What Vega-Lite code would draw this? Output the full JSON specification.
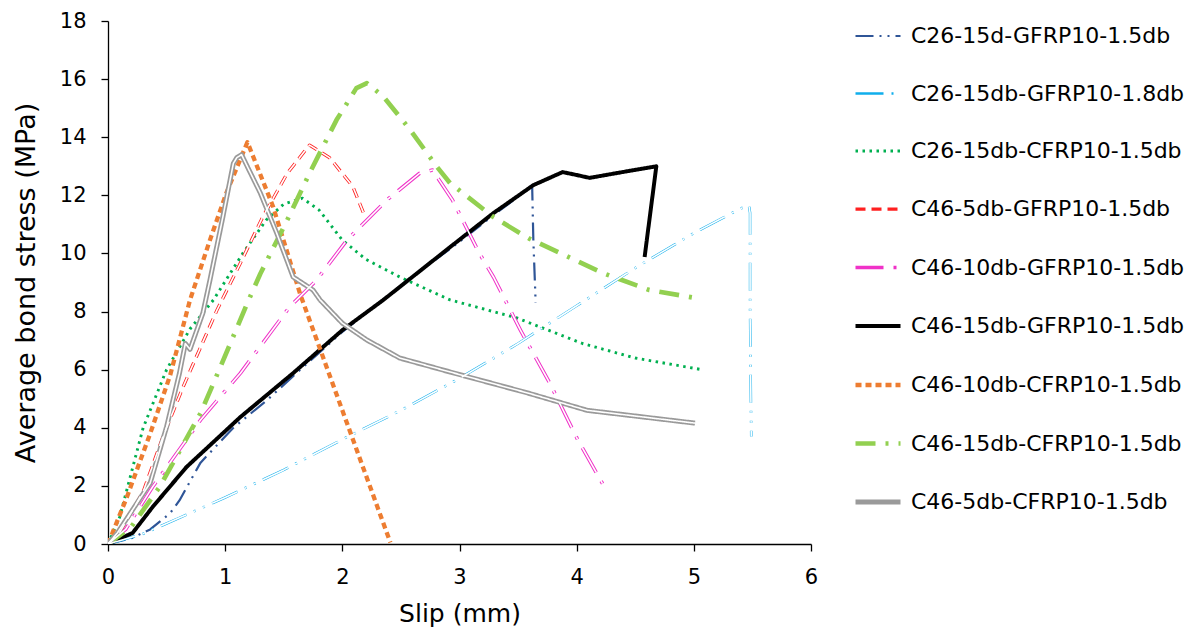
{
  "$schema": "https://vega.github.io/schema/vega-lite/v6.json",
  "autosize": {"type": "none"},
  "width": 703,
  "height": 523,
  "padding": {"left": 108, "top": 21, "right": 382, "bottom": 90},
  "background": "white",
  "config": {
    "font": "DejaVu Sans",
    "view": {"stroke": null},
    "axis": {"grid": false, "labelFlush": false, "domainColor": "#000000", "tickColor": "#000000", "labelColor": "#000000", "titleColor": "#000000", "labelFont": "DejaVu Sans", "titleFont": "DejaVu Sans", "titleFontWeight": "normal", "domainWidth": 1.3, "tickWidth": 1.3, "tickSize": 7}
  },
  "datasets": {
    "curves": [
      {"s": "C26-15d-GFRP10-1.5db", "i": 0, "x": 0, "y": 0},
      {"s": "C26-15d-GFRP10-1.5db", "i": 1, "x": 0.2, "y": 0.2},
      {"s": "C26-15d-GFRP10-1.5db", "i": 2, "x": 0.36, "y": 0.5},
      {"s": "C26-15d-GFRP10-1.5db", "i": 3, "x": 0.53, "y": 1.06},
      {"s": "C26-15d-GFRP10-1.5db", "i": 4, "x": 0.61, "y": 1.5},
      {"s": "C26-15d-GFRP10-1.5db", "i": 5, "x": 0.79, "y": 2.8},
      {"s": "C26-15d-GFRP10-1.5db", "i": 6, "x": 1.07, "y": 4.0},
      {"s": "C26-15d-GFRP10-1.5db", "i": 7, "x": 1.36, "y": 4.96},
      {"s": "C26-15d-GFRP10-1.5db", "i": 8, "x": 1.6, "y": 5.85},
      {"s": "C26-15d-GFRP10-1.5db", "i": 9, "x": 2.0, "y": 7.3},
      {"s": "C26-15d-GFRP10-1.5db", "i": 10, "x": 2.5, "y": 8.9},
      {"s": "C26-15d-GFRP10-1.5db", "i": 11, "x": 3.0, "y": 10.4},
      {"s": "C26-15d-GFRP10-1.5db", "i": 12, "x": 3.3, "y": 11.35},
      {"s": "C26-15d-GFRP10-1.5db", "i": 13, "x": 3.55, "y": 12.1},
      {"s": "C26-15d-GFRP10-1.5db", "i": 14, "x": 3.62, "y": 12.35},
      {"s": "C26-15d-GFRP10-1.5db", "i": 15, "x": 3.63, "y": 10.5},
      {"s": "C26-15d-GFRP10-1.5db", "i": 16, "x": 3.65, "y": 8.3},

      {"s": "C26-15db-GFRP10-1.8db", "i": 0, "x": 0, "y": 0},
      {"s": "C26-15db-GFRP10-1.8db", "i": 1, "x": 0.3, "y": 0.35},
      {"s": "C26-15db-GFRP10-1.8db", "i": 2, "x": 0.61, "y": 0.9},
      {"s": "C26-15db-GFRP10-1.8db", "i": 3, "x": 1.0, "y": 1.6},
      {"s": "C26-15db-GFRP10-1.8db", "i": 4, "x": 1.5, "y": 2.55},
      {"s": "C26-15db-GFRP10-1.8db", "i": 5, "x": 2.0, "y": 3.6},
      {"s": "C26-15db-GFRP10-1.8db", "i": 6, "x": 2.5, "y": 4.6},
      {"s": "C26-15db-GFRP10-1.8db", "i": 7, "x": 3.0, "y": 5.7},
      {"s": "C26-15db-GFRP10-1.8db", "i": 8, "x": 3.5, "y": 6.9},
      {"s": "C26-15db-GFRP10-1.8db", "i": 9, "x": 4.0, "y": 8.2},
      {"s": "C26-15db-GFRP10-1.8db", "i": 10, "x": 4.5, "y": 9.5},
      {"s": "C26-15db-GFRP10-1.8db", "i": 11, "x": 5.0, "y": 10.7},
      {"s": "C26-15db-GFRP10-1.8db", "i": 12, "x": 5.4, "y": 11.55},
      {"s": "C26-15db-GFRP10-1.8db", "i": 13, "x": 5.47, "y": 11.65},
      {"s": "C26-15db-GFRP10-1.8db", "i": 14, "x": 5.48, "y": 11.4},
      {"s": "C26-15db-GFRP10-1.8db", "i": 15, "x": 5.48, "y": 8.0},
      {"s": "C26-15db-GFRP10-1.8db", "i": 16, "x": 5.49, "y": 3.7},

      {"s": "C26-15db-CFRP10-1.5db", "i": 0, "x": 0, "y": 0},
      {"s": "C26-15db-CFRP10-1.5db", "i": 1, "x": 0.1, "y": 0.93},
      {"s": "C26-15db-CFRP10-1.5db", "i": 2, "x": 0.3, "y": 4.0},
      {"s": "C26-15db-CFRP10-1.5db", "i": 3, "x": 0.5, "y": 6.0},
      {"s": "C26-15db-CFRP10-1.5db", "i": 4, "x": 0.7, "y": 7.4},
      {"s": "C26-15db-CFRP10-1.5db", "i": 5, "x": 0.9, "y": 8.4},
      {"s": "C26-15db-CFRP10-1.5db", "i": 6, "x": 1.15, "y": 10.0},
      {"s": "C26-15db-CFRP10-1.5db", "i": 7, "x": 1.35, "y": 11.15},
      {"s": "C26-15db-CFRP10-1.5db", "i": 8, "x": 1.5, "y": 11.7},
      {"s": "C26-15db-CFRP10-1.5db", "i": 9, "x": 1.66, "y": 11.9},
      {"s": "C26-15db-CFRP10-1.5db", "i": 10, "x": 1.8, "y": 11.5},
      {"s": "C26-15db-CFRP10-1.5db", "i": 11, "x": 2.0, "y": 10.46},
      {"s": "C26-15db-CFRP10-1.5db", "i": 12, "x": 2.2, "y": 9.8},
      {"s": "C26-15db-CFRP10-1.5db", "i": 13, "x": 2.49, "y": 9.19},
      {"s": "C26-15db-CFRP10-1.5db", "i": 14, "x": 2.92, "y": 8.4},
      {"s": "C26-15db-CFRP10-1.5db", "i": 15, "x": 3.49, "y": 7.78},
      {"s": "C26-15db-CFRP10-1.5db", "i": 16, "x": 4.05, "y": 6.9},
      {"s": "C26-15db-CFRP10-1.5db", "i": 17, "x": 4.5, "y": 6.4},
      {"s": "C26-15db-CFRP10-1.5db", "i": 18, "x": 5.07, "y": 6.0},

      {"s": "C46-5db-GFRP10-1.5db", "i": 0, "x": 0, "y": 0},
      {"s": "C46-5db-GFRP10-1.5db", "i": 1, "x": 0.1, "y": 0.4},
      {"s": "C46-5db-GFRP10-1.5db", "i": 2, "x": 0.3, "y": 1.8},
      {"s": "C46-5db-GFRP10-1.5db", "i": 3, "x": 0.47, "y": 3.7},
      {"s": "C46-5db-GFRP10-1.5db", "i": 4, "x": 0.64, "y": 5.4},
      {"s": "C46-5db-GFRP10-1.5db", "i": 5, "x": 0.93, "y": 8.05},
      {"s": "C46-5db-GFRP10-1.5db", "i": 6, "x": 1.13, "y": 9.67},
      {"s": "C46-5db-GFRP10-1.5db", "i": 7, "x": 1.32, "y": 11.25},
      {"s": "C46-5db-GFRP10-1.5db", "i": 8, "x": 1.53, "y": 12.76},
      {"s": "C46-5db-GFRP10-1.5db", "i": 9, "x": 1.72, "y": 13.73},
      {"s": "C46-5db-GFRP10-1.5db", "i": 10, "x": 1.89, "y": 13.3},
      {"s": "C46-5db-GFRP10-1.5db", "i": 11, "x": 2.09, "y": 12.3},
      {"s": "C46-5db-GFRP10-1.5db", "i": 12, "x": 2.18, "y": 11.4},

      {"s": "C46-10db-GFRP10-1.5db", "i": 0, "x": 0, "y": 0},
      {"s": "C46-10db-GFRP10-1.5db", "i": 1, "x": 0.15, "y": 0.5},
      {"s": "C46-10db-GFRP10-1.5db", "i": 2, "x": 0.38, "y": 1.96},
      {"s": "C46-10db-GFRP10-1.5db", "i": 3, "x": 0.79, "y": 4.27},
      {"s": "C46-10db-GFRP10-1.5db", "i": 4, "x": 1.13, "y": 5.88},
      {"s": "C46-10db-GFRP10-1.5db", "i": 5, "x": 1.55, "y": 8.16},
      {"s": "C46-10db-GFRP10-1.5db", "i": 6, "x": 1.78, "y": 9.08},
      {"s": "C46-10db-GFRP10-1.5db", "i": 7, "x": 2.04, "y": 10.46},
      {"s": "C46-10db-GFRP10-1.5db", "i": 8, "x": 2.38, "y": 11.84},
      {"s": "C46-10db-GFRP10-1.5db", "i": 9, "x": 2.66, "y": 12.76},
      {"s": "C46-10db-GFRP10-1.5db", "i": 10, "x": 2.77, "y": 12.87},
      {"s": "C46-10db-GFRP10-1.5db", "i": 11, "x": 2.94, "y": 11.84},
      {"s": "C46-10db-GFRP10-1.5db", "i": 12, "x": 3.17, "y": 10.0},
      {"s": "C46-10db-GFRP10-1.5db", "i": 13, "x": 3.29, "y": 9.19},
      {"s": "C46-10db-GFRP10-1.5db", "i": 14, "x": 3.52, "y": 7.36},
      {"s": "C46-10db-GFRP10-1.5db", "i": 15, "x": 3.77, "y": 5.54},
      {"s": "C46-10db-GFRP10-1.5db", "i": 16, "x": 4.01, "y": 3.58},
      {"s": "C46-10db-GFRP10-1.5db", "i": 17, "x": 4.26, "y": 1.8},

      {"s": "C46-15db-GFRP10-1.5db", "i": 0, "x": 0, "y": 0},
      {"s": "C46-15db-GFRP10-1.5db", "i": 1, "x": 0.21, "y": 0.38},
      {"s": "C46-15db-GFRP10-1.5db", "i": 2, "x": 0.38, "y": 1.27},
      {"s": "C46-15db-GFRP10-1.5db", "i": 3, "x": 0.67, "y": 2.65},
      {"s": "C46-15db-GFRP10-1.5db", "i": 4, "x": 1.13, "y": 4.37},
      {"s": "C46-15db-GFRP10-1.5db", "i": 5, "x": 1.58, "y": 5.88},
      {"s": "C46-15db-GFRP10-1.5db", "i": 6, "x": 2.0, "y": 7.36},
      {"s": "C46-15db-GFRP10-1.5db", "i": 7, "x": 2.35, "y": 8.4},
      {"s": "C46-15db-GFRP10-1.5db", "i": 8, "x": 2.92, "y": 10.22},
      {"s": "C46-15db-GFRP10-1.5db", "i": 9, "x": 3.29, "y": 11.39},
      {"s": "C46-15db-GFRP10-1.5db", "i": 10, "x": 3.63, "y": 12.35},
      {"s": "C46-15db-GFRP10-1.5db", "i": 11, "x": 3.88, "y": 12.8},
      {"s": "C46-15db-GFRP10-1.5db", "i": 12, "x": 4.0, "y": 12.7},
      {"s": "C46-15db-GFRP10-1.5db", "i": 13, "x": 4.11, "y": 12.6},
      {"s": "C46-15db-GFRP10-1.5db", "i": 14, "x": 4.39, "y": 12.8},
      {"s": "C46-15db-GFRP10-1.5db", "i": 15, "x": 4.68, "y": 13.0},
      {"s": "C46-15db-GFRP10-1.5db", "i": 16, "x": 4.58, "y": 9.88},

      {"s": "C46-10db-CFRP10-1.5db", "i": 0, "x": 0, "y": 0},
      {"s": "C46-10db-CFRP10-1.5db", "i": 1, "x": 0.16, "y": 1.6},
      {"s": "C46-10db-CFRP10-1.5db", "i": 2, "x": 0.36, "y": 3.8},
      {"s": "C46-10db-CFRP10-1.5db", "i": 3, "x": 0.53, "y": 5.8},
      {"s": "C46-10db-CFRP10-1.5db", "i": 4, "x": 0.7, "y": 8.4},
      {"s": "C46-10db-CFRP10-1.5db", "i": 5, "x": 0.87, "y": 10.46},
      {"s": "C46-10db-CFRP10-1.5db", "i": 6, "x": 1.01, "y": 12.08},
      {"s": "C46-10db-CFRP10-1.5db", "i": 7, "x": 1.19, "y": 13.83},
      {"s": "C46-10db-CFRP10-1.5db", "i": 8, "x": 1.41, "y": 11.6},
      {"s": "C46-10db-CFRP10-1.5db", "i": 9, "x": 1.64, "y": 8.6},
      {"s": "C46-10db-CFRP10-1.5db", "i": 10, "x": 2.0, "y": 4.6},
      {"s": "C46-10db-CFRP10-1.5db", "i": 11, "x": 2.41, "y": 0.05},

      {"s": "C46-15db-CFRP10-1.5db", "i": 0, "x": 0, "y": 0},
      {"s": "C46-15db-CFRP10-1.5db", "i": 1, "x": 0.2, "y": 0.6},
      {"s": "C46-15db-CFRP10-1.5db", "i": 2, "x": 0.44, "y": 1.96},
      {"s": "C46-15db-CFRP10-1.5db", "i": 3, "x": 0.79, "y": 4.5},
      {"s": "C46-15db-CFRP10-1.5db", "i": 4, "x": 0.96, "y": 6.1},
      {"s": "C46-15db-CFRP10-1.5db", "i": 5, "x": 1.19, "y": 8.3},
      {"s": "C46-15db-CFRP10-1.5db", "i": 6, "x": 1.3, "y": 9.3},
      {"s": "C46-15db-CFRP10-1.5db", "i": 7, "x": 1.53, "y": 11.15},
      {"s": "C46-15db-CFRP10-1.5db", "i": 8, "x": 1.72, "y": 12.76},
      {"s": "C46-15db-CFRP10-1.5db", "i": 9, "x": 1.95, "y": 14.59},
      {"s": "C46-15db-CFRP10-1.5db", "i": 10, "x": 2.12, "y": 15.69},
      {"s": "C46-15db-CFRP10-1.5db", "i": 11, "x": 2.21, "y": 15.86},
      {"s": "C46-15db-CFRP10-1.5db", "i": 12, "x": 2.35, "y": 15.4},
      {"s": "C46-15db-CFRP10-1.5db", "i": 13, "x": 2.58, "y": 14.25},
      {"s": "C46-15db-CFRP10-1.5db", "i": 14, "x": 2.81, "y": 12.97},
      {"s": "C46-15db-CFRP10-1.5db", "i": 15, "x": 2.92, "y": 12.42},
      {"s": "C46-15db-CFRP10-1.5db", "i": 16, "x": 3.29, "y": 11.25},
      {"s": "C46-15db-CFRP10-1.5db", "i": 17, "x": 3.6, "y": 10.5},
      {"s": "C46-15db-CFRP10-1.5db", "i": 18, "x": 4.22, "y": 9.33},
      {"s": "C46-15db-CFRP10-1.5db", "i": 19, "x": 4.62, "y": 8.74},
      {"s": "C46-15db-CFRP10-1.5db", "i": 20, "x": 5.01, "y": 8.47},

      {"s": "C46-5db-CFRP10-1.5db", "i": 0, "x": 0, "y": 0},
      {"s": "C46-5db-CFRP10-1.5db", "i": 1, "x": 0.08, "y": 0.38},
      {"s": "C46-5db-CFRP10-1.5db", "i": 2, "x": 0.36, "y": 2.1},
      {"s": "C46-5db-CFRP10-1.5db", "i": 3, "x": 0.5, "y": 4.03},
      {"s": "C46-5db-CFRP10-1.5db", "i": 4, "x": 0.61, "y": 5.88},
      {"s": "C46-5db-CFRP10-1.5db", "i": 5, "x": 0.66, "y": 6.9},
      {"s": "C46-5db-CFRP10-1.5db", "i": 6, "x": 0.7, "y": 6.7},
      {"s": "C46-5db-CFRP10-1.5db", "i": 7, "x": 0.81, "y": 7.95},
      {"s": "C46-5db-CFRP10-1.5db", "i": 8, "x": 0.87, "y": 9.08},
      {"s": "C46-5db-CFRP10-1.5db", "i": 9, "x": 0.98, "y": 11.25},
      {"s": "C46-5db-CFRP10-1.5db", "i": 10, "x": 1.07, "y": 13.1},
      {"s": "C46-5db-CFRP10-1.5db", "i": 11, "x": 1.1, "y": 13.3},
      {"s": "C46-5db-CFRP10-1.5db", "i": 12, "x": 1.14, "y": 13.4},
      {"s": "C46-5db-CFRP10-1.5db", "i": 13, "x": 1.2, "y": 12.9},
      {"s": "C46-5db-CFRP10-1.5db", "i": 14, "x": 1.3, "y": 12.08},
      {"s": "C46-5db-CFRP10-1.5db", "i": 15, "x": 1.44, "y": 10.7},
      {"s": "C46-5db-CFRP10-1.5db", "i": 16, "x": 1.58, "y": 9.19},
      {"s": "C46-5db-CFRP10-1.5db", "i": 17, "x": 1.75, "y": 8.74},
      {"s": "C46-5db-CFRP10-1.5db", "i": 18, "x": 1.81, "y": 8.4},
      {"s": "C46-5db-CFRP10-1.5db", "i": 19, "x": 2.0, "y": 7.6},
      {"s": "C46-5db-CFRP10-1.5db", "i": 20, "x": 2.21, "y": 7.02},
      {"s": "C46-5db-CFRP10-1.5db", "i": 21, "x": 2.49, "y": 6.4},
      {"s": "C46-5db-CFRP10-1.5db", "i": 22, "x": 2.92, "y": 5.92},
      {"s": "C46-5db-CFRP10-1.5db", "i": 23, "x": 3.58, "y": 5.2},
      {"s": "C46-5db-CFRP10-1.5db", "i": 24, "x": 4.09, "y": 4.6},
      {"s": "C46-5db-CFRP10-1.5db", "i": 25, "x": 5.01, "y": 4.16}
    ]
  },
  "data": {"name": "curves"},
  "layer": [
    {
      "mark": {"type": "line", "strokeCap": "butt", "strokeJoin": "round", "clip": true},
      "encoding": {
        "x": {"field": "x", "type": "quantitative", "scale": {"domain": [0, 6], "nice": false}, "axis": {"title": "Slip (mm)", "values": [0, 1, 2, 3, 4, 5, 6], "format": "d", "labelFontSize": 21, "titleFontSize": 25, "labelPadding": 15, "titlePadding": 14, "labelAngle": 0}},
        "y": {"field": "y", "type": "quantitative", "scale": {"domain": [0, 18], "nice": false}, "axis": {"title": "Average bond stress (MPa)", "values": [0, 2, 4, 6, 8, 10, 12, 14, 16, 18], "format": "d", "labelFontSize": 21, "titleFontSize": 27, "labelPadding": 15, "titlePadding": 19}},
        "order": {"field": "i", "type": "quantitative"},
        "color": {
          "field": "s", "type": "nominal",
          "scale": {
            "domain": ["C26-15d-GFRP10-1.5db", "C26-15db-GFRP10-1.8db", "C26-15db-CFRP10-1.5db", "C46-5db-GFRP10-1.5db", "C46-10db-GFRP10-1.5db", "C46-15db-GFRP10-1.5db", "C46-10db-CFRP10-1.5db", "C46-15db-CFRP10-1.5db", "C46-5db-CFRP10-1.5db"],
            "range": ["#2F5597", "#10AEEC", "#00B050", "#FF2020", "#F032C8", "#000000", "#ED7D31", "#92D050", "#9A9A9A"]
          },
          "legend": {
            "title": null, "orient": "none", "legendX": 745, "legendY": -9,
            "symbolType": "stroke", "symbolSize": 2025, "labelFontSize": 22, "labelFont": "DejaVu Sans", "labelColor": "#000000",
            "labelOffset": 8, "rowPadding": 22.5, "labelLimit": 400
          }
        },
        "strokeDash": {
          "field": "s", "type": "nominal",
          "scale": {
            "domain": ["C26-15d-GFRP10-1.5db", "C26-15db-GFRP10-1.8db", "C26-15db-CFRP10-1.5db", "C46-5db-GFRP10-1.5db", "C46-10db-GFRP10-1.5db", "C46-15db-GFRP10-1.5db", "C46-10db-CFRP10-1.5db", "C46-15db-CFRP10-1.5db", "C46-5db-CFRP10-1.5db"],
            "range": [[18, 6, 2, 6, 2, 6], [28, 8, 2, 8, 2, 8], [2.5, 4.5], [10, 6], [28, 10, 3, 10], [1, 0], [6, 4], [20, 10, 3, 10], [1, 0]]
          }
        },
        "strokeWidth": {
          "field": "s", "type": "nominal",
          "scale": {
            "domain": ["C26-15d-GFRP10-1.5db", "C26-15db-GFRP10-1.8db", "C26-15db-CFRP10-1.5db", "C46-5db-GFRP10-1.5db", "C46-10db-GFRP10-1.5db", "C46-15db-GFRP10-1.5db", "C46-10db-CFRP10-1.5db", "C46-15db-CFRP10-1.5db", "C46-5db-CFRP10-1.5db"],
            "range": [2.2, 5, 3, 4.8, 4.8, 2.2, 2.5, 2.3, 4.6]
          }
        }
      }
    },
    {
      "transform": [{"filter": {"field": "s", "oneOf": ["C26-15db-GFRP10-1.8db", "C46-5db-GFRP10-1.5db", "C46-10db-GFRP10-1.5db", "C46-5db-CFRP10-1.5db"]}}],
      "mark": {"type": "line", "strokeCap": "butt", "strokeJoin": "round", "color": "#FFFFFF", "strokeWidth": 1.6, "clip": true},
      "encoding": {
        "x": {"field": "x", "type": "quantitative"},
        "y": {"field": "y", "type": "quantitative"},
        "order": {"field": "i", "type": "quantitative"},
        "detail": {"field": "s", "type": "nominal"},
        "strokeDash": {"field": "s", "type": "nominal", "legend": null}
      }
    }
  ]
}
